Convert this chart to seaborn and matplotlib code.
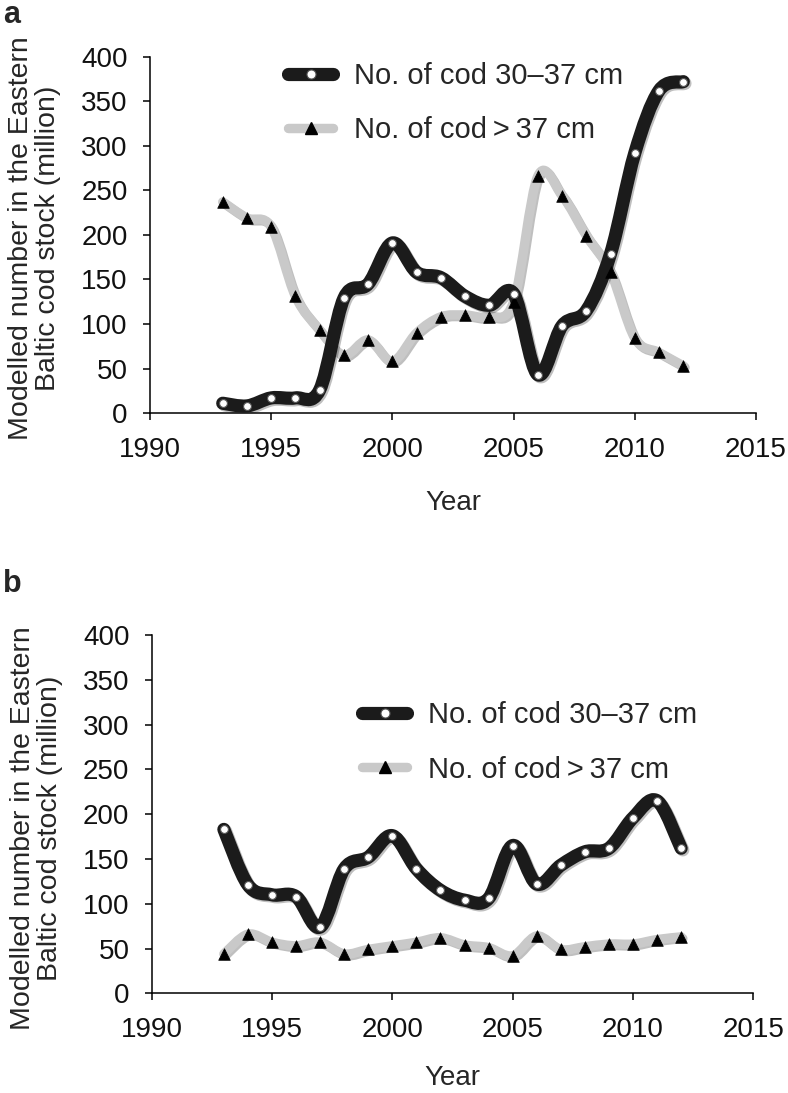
import numpy as np
import matplotlib
matplotlib.use("Agg")
import matplotlib.pyplot as plt
import seaborn as sns
from matplotlib.path import Path
from matplotlib.patches import PathPatch
from matplotlib.lines import Line2D
import matplotlib.patheffects as pe

# ---------------- data ----------------
years = list(range(1993, 2013))

a_small = [11, 8, 17, 17, 26, 129, 145, 191, 158, 152, 131, 121, 134,
           43, 98, 115, 179, 292, 362, 372]
a_large = [237, 219, 209, 131, 93, 65, 82, 58, 90, 108, 110, 108, 125,
           266, 244, 199, 158, 84, 68, 53]

b_small = [183, 121, 110, 108, 74, 139, 152, 176, 139, 115, 104, 106, 165,
           122, 143, 158, 162, 196, 215, 162]
b_large = [44, 66, 57, 53, 57, 44, 49, 53, 57, 62, 54, 51, 42,
           64, 49, 52, 55, 55, 60, 63]

label_small = "No. of cod 30\u201337 cm"
label_large = "No. of cod\u2009>\u200937 cm"
ylabel = "Modelled number in the Eastern\nBaltic cod stock (million)"
xticks = [1990, 1995, 2000, 2005, 2010, 2015]
yticks = [0, 50, 100, 150, 200, 250, 300, 350, 400]

# ---------------- style ----------------
sns.set_style("ticks")
plt.rcParams['font.family'] = ['Liberation Sans', 'DejaVu Sans']
FS = 20

BLACK = "#1b1b1b"
GREY = "#c9c9c9"


def smooth_path(x, y):
    x = np.asarray(x, float)
    y = np.asarray(y, float)
    n = len(x)
    verts = [(x[0], y[0])]
    codes = [Path.MOVETO]
    for i in range(n - 1):
        p0 = i - 1 if i > 0 else i
        p3 = i + 2 if i + 2 < n else i + 1
        c1 = (x[i] + (x[i + 1] - x[p0]) / 6.0, y[i] + (y[i + 1] - y[p0]) / 6.0)
        c2 = (x[i + 1] - (x[p3] - x[i]) / 6.0, y[i + 1] - (y[p3] - y[i]) / 6.0)
        verts += [c1, c2, (x[i + 1], y[i + 1])]
        codes += [Path.CURVE4] * 3
    return Path(verts, codes)


shadow = [pe.SimpleLineShadow(offset=(1.2, -1.2), shadow_color='k', alpha=0.25), pe.Normal()]


def draw_panel(ax, small, large, leg_anchor, ylab_y, xlab_pad):
    # grey series (>37 cm)
    pg = PathPatch(smooth_path(years, large), fill=False, edgecolor=GREY, lw=6.8,
                   capstyle='round', joinstyle='round', transform=ax.transData, zorder=2)
    pg.set_path_effects(shadow)
    ax.add_patch(pg)
    # black series (30-37 cm)
    pb = PathPatch(smooth_path(years, small), fill=False, edgecolor=BLACK, lw=9.5,
                   capstyle='round', joinstyle='round', transform=ax.transData, zorder=3)
    pb.set_path_effects(shadow)
    ax.add_patch(pb)

    sns.scatterplot(x=years, y=large, marker='^', s=70, color='black',
                    edgecolor='black', linewidth=0.5, ax=ax, zorder=4, legend=False)
    sns.scatterplot(x=years, y=small, marker='o', s=32, color='white',
                    edgecolor='#555555', linewidth=0.8, ax=ax, zorder=5, legend=False)

    ax.set_xlim(1990, 2015)
    ax.set_ylim(0, 400)
    ax.set_xticks(xticks)
    ax.set_yticks(yticks)
    ax.tick_params(axis='both', labelsize=FS, direction='out', length=5,
                   width=1.1, color='black', labelcolor='#111111')
    ax.tick_params(axis='x', pad=12)
    ax.tick_params(axis='y', pad=11)
    for s in ['top', 'right']:
        ax.spines[s].set_visible(False)
    for s in ['left', 'bottom']:
        ax.spines[s].set_color('black')
        ax.spines[s].set_linewidth(1.1)
    ax.set_xlabel("Year", fontsize=FS, labelpad=xlab_pad)
    ax.set_ylabel(ylabel, fontsize=20.5, linespacing=1.05)
    ax.yaxis.set_label_coords(-0.147, ylab_y)

    handles = [
        Line2D([0], [0], color=BLACK, lw=9.5, solid_capstyle='round',
               marker='o', markerfacecolor='white', markeredgecolor='#555555',
               markersize=6.5, markeredgewidth=0.8),
        Line2D([0], [0], color=GREY, lw=6.8, solid_capstyle='round',
               marker='^', markerfacecolor='black', markeredgecolor='black',
               markersize=9),
    ]
    ax.legend(handles, [label_small, label_large], loc='upper left',
              bbox_to_anchor=leg_anchor, frameon=False, fontsize=21,
              handlelength=1.55, handletextpad=0.7, labelspacing=0.9,
              borderpad=0, borderaxespad=0, numpoints=1)


fig = plt.figure(figsize=(7.88, 10.93), dpi=100)
ax_a = fig.add_axes([0.1904, 0.6221, 0.769, 0.326])
ax_b = fig.add_axes([0.1925, 0.0912, 0.7635, 0.3278])

draw_panel(ax_a, a_small, a_large, (0.228, 0.985), 0.491, 20)
draw_panel(ax_b, b_small, b_large, (0.350, 0.815), 0.461, 16)

fig.text(0.004, 1.0, "a", fontsize=22, fontweight='bold', va='top', ha='left')
fig.text(0.004, 0.479, "b", fontsize=22, fontweight='bold', va='top', ha='left')

fig.savefig("out.png", dpi=100, facecolor='white')
